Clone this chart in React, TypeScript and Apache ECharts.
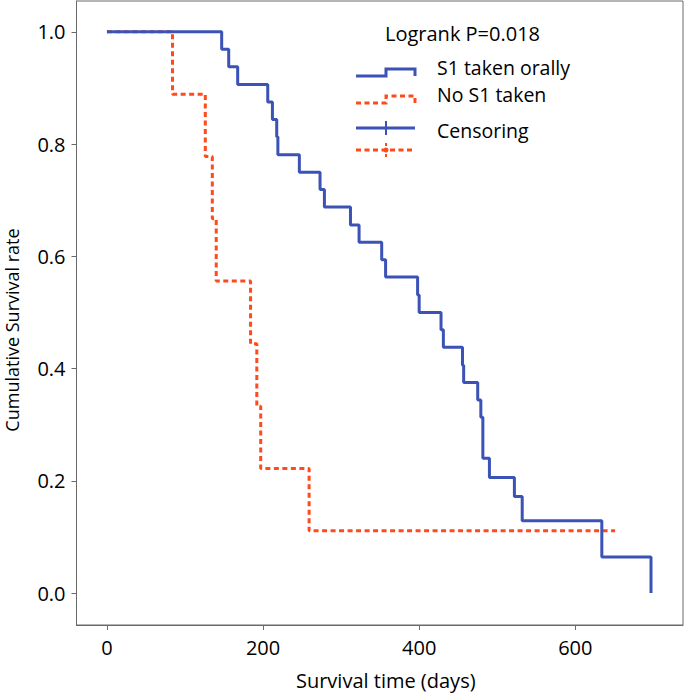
import React, { useEffect, useRef } from "react";
import * as echarts from "echarts";

// Kaplan-Meier curves (time in days, cumulative survival)
const s1Times = [0, 147, 156, 167.5, 206, 212, 217.5, 219, 246.5, 273, 278.6, 312, 323, 352, 357, 398, 400, 428, 431, 455.5, 457, 475, 479, 481.6, 490, 522, 532, 634, 697];
const s1Surv = [1, 0.969, 0.938, 0.906, 0.875, 0.844, 0.813, 0.781, 0.75, 0.719, 0.688, 0.656, 0.625, 0.594, 0.563, 0.531, 0.5, 0.469, 0.438, 0.406, 0.375, 0.344, 0.313, 0.24, 0.206, 0.172, 0.129, 0.064, 0];

const noS1Times = [0, 84, 126, 135, 140, 184, 192, 197, 259, 651];
const noS1Surv = [1, 0.889, 0.778, 0.667, 0.556, 0.444, 0.333, 0.222, 0.111, 0.111];

const xTicks = [0, 200, 400, 600];
const yTicks = [0, 0.2, 0.4, 0.6, 0.8, 1.0];

const seriesNames = ["S1 taken orally", "No S1 taken"];
const censorLabel = "Censoring";
const statText = "Logrank P=0.018";
const xTitle = "Survival time (days)";
const yTitle = "Cumulative Survival rate";

const BLUE = "#3b52b6";
const RED = "#ff4a1c";
const FONT = "'Open Sans', 'Noto Sans', sans-serif";
const AXIS = "#6a6a6a";
const TXT = "#000";

export default function App() {
  const ref = useRef<HTMLDivElement>(null);
  useEffect(() => {
    if (!ref.current) return;
    const chart = echarts.init(ref.current, undefined, { renderer: "svg" });
    const s1Data = s1Times.map((t, i) => [t, s1Surv[i]]);
    const noData = noS1Times.map((t, i) => [t, noS1Surv[i]]);
    const dash = [5, 3.5];
    const lx0 = 356, lx1 = 386, lx2 = 415;
    chart.setOption({
      animation: false,
      backgroundColor: "#ffffff",
      textStyle: { fontFamily: FONT },
      grid: {
        left: 76.5, right: 2, top: 1, bottom: 70,
        outerBoundsMode: "none", containLabel: false,
        show: true, borderColor: AXIS, borderWidth: 1, backgroundColor: "transparent",
      },
      xAxis: {
        type: "value", min: -39, max: 738,
        name: xTitle, nameLocation: "middle", nameGap: 45,
        nameTextStyle: { fontFamily: FONT, fontSize: 20, color: TXT, padding: [0, 0, 0, 12] },
        axisLine: { show: true, onZero: false, lineStyle: { color: AXIS, width: 1 } },
        axisTick: { show: true, length: 5, lineStyle: { color: AXIS }, customValues: xTicks },
        axisLabel: { customValues: xTicks, fontFamily: FONT, fontSize: 20, color: TXT, margin: 12 },
        splitLine: { show: false },
      },
      yAxis: {
        type: "value", min: -0.057, max: 1.055,
        name: yTitle, nameLocation: "middle", nameGap: 56,
        nameTextStyle: { fontFamily: FONT, fontSize: 18, color: TXT, padding: [0, 34, 0, 0] },
        axisLine: { show: true, onZero: false, lineStyle: { color: AXIS, width: 1 } },
        axisTick: { show: true, length: 5, lineStyle: { color: AXIS }, customValues: yTicks },
        axisLabel: {
          customValues: yTicks, fontFamily: FONT, fontSize: 20, color: TXT, margin: 11,
          formatter: (v: number) => v.toFixed(1),
        },
        splitLine: { show: false },
      },
      series: [
        {
          name: seriesNames[0], type: "line", step: "end", data: s1Data,
          showSymbol: false, symbol: "none",
          lineStyle: { color: BLUE, width: 3 }, z: 3,
        },
        {
          name: seriesNames[1], type: "line", step: "end", data: noData,
          showSymbol: false, symbol: "none",
          lineStyle: { color: RED, width: 3, type: dash }, z: 2,
        },
      ],
      graphic: [
        { type: "text", left: 385, top: 23, style: { text: statText, font: `20px ${FONT}`, fill: TXT } },
        {
          type: "polyline", shape: { points: [[lx0, 76], [lx1, 76], [lx1, 69], [lx2, 69], [lx2, 76]] },
          style: { stroke: BLUE, lineWidth: 3, fill: "none" },
        },
        {
          type: "polyline", shape: { points: [[lx0, 103], [lx1, 103], [lx1, 96], [lx2, 96], [lx2, 103]] },
          style: { stroke: RED, lineWidth: 3, fill: "none", lineDash: dash },
        },
        { type: "line", shape: { x1: lx0, y1: 128, x2: lx2, y2: 128 }, style: { stroke: BLUE, lineWidth: 3 } },
        { type: "line", shape: { x1: lx1, y1: 121, x2: lx1, y2: 135 }, style: { stroke: BLUE, lineWidth: 2 } },
        { type: "line", shape: { x1: lx0, y1: 150, x2: lx2, y2: 150 }, style: { stroke: RED, lineWidth: 3, lineDash: dash } },
        { type: "line", shape: { x1: lx1, y1: 143, x2: lx1, y2: 157 }, style: { stroke: RED, lineWidth: 2, lineDash: [3, 2.5] } },
        { type: "circle", shape: { cx: lx1, cy: 150, r: 2.5 }, style: { fill: RED } },
        { type: "text", left: 437, top: 57, style: { text: seriesNames[0], font: `19.5px ${FONT}`, fill: TXT } },
        { type: "text", left: 437, top: 84, style: { text: seriesNames[1], font: `19.5px ${FONT}`, fill: TXT } },
        { type: "text", left: 437, top: 120, style: { text: censorLabel, font: `19.5px ${FONT}`, fill: TXT } },
      ],
    });
    return () => chart.dispose();
  }, []);
  return (
    <div
      ref={ref}
      style={{ position: "fixed", left: 0, top: 0, width: 685, height: 695, background: "#fff" }}
    />
  );
}
